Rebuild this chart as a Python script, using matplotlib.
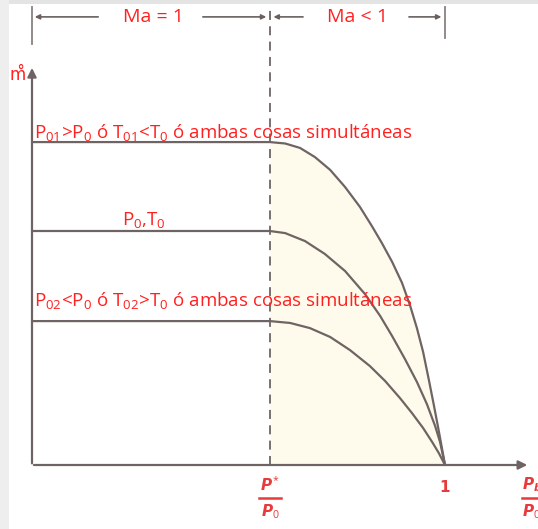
import matplotlib
matplotlib.use("Agg")
import matplotlib.pyplot as plt
from matplotlib.patches import Rectangle

plt.rcParams["mathtext.fontset"] = "custom"
plt.rcParams["mathtext.rm"] = "Open Sans"
plt.rcParams["mathtext.it"] = "DejaVu Sans:italic:bold"

# pressure ratio P/P0 (critical ratio where Ma = 1 at the throat)
P_CRIT = 0.576

# mass flow vs back pressure ratio, three stagnation states
ratio_high = [0.0, 0.576, 0.613, 0.649, 0.685, 0.722, 0.758, 0.794, 0.823, 0.847,
              0.872, 0.896, 0.915, 0.932, 0.947, 0.961, 0.973, 0.985, 1.0]
flow_high = [1.380, 1.380, 1.374, 1.355, 1.316, 1.261, 1.188, 1.103, 1.021, 0.949,
             0.868, 0.778, 0.684, 0.585, 0.483, 0.363, 0.256, 0.145, 0.0]

ratio_mid = [0.0, 0.576, 0.613, 0.661, 0.709, 0.758, 0.806, 0.843, 0.872, 0.903,
             0.932, 0.956, 0.976, 0.988, 1.0]
flow_mid = [1.0, 1.0, 0.991, 0.957, 0.902, 0.829, 0.731, 0.637, 0.551, 0.453,
            0.355, 0.261, 0.167, 0.098, 0.0]

ratio_low = [0.0, 0.576, 0.625, 0.673, 0.722, 0.770, 0.818, 0.855, 0.891, 0.920,
             0.947, 0.969, 0.985, 1.0]
flow_low = [0.615, 0.615, 0.607, 0.585, 0.547, 0.491, 0.423, 0.359, 0.286, 0.222,
            0.158, 0.098, 0.051, 0.0]

label_high = r"P$_{\mathrm{01}}$>P$_{\mathrm{0}}$ ó T$_{\mathrm{01}}$<T$_{\mathrm{0}}$ ó ambas cosas simultáneas"
label_mid = r"P$_{\mathrm{0}}$,T$_{\mathrm{0}}$"
label_low = r"P$_{\mathrm{02}}$<P$_{\mathrm{0}}$ ó T$_{\mathrm{02}}$>T$_{\mathrm{0}}$ ó ambas cosas simultáneas"

RED = "#ff2020"
LINE = "#6f6464"
FONT = "Open Sans"

fig = plt.figure(figsize=(5.38, 5.29), dpi=100)
ax = fig.add_axes([0, 0, 1, 1])
ax.axis("off")
ax.set_xlim(-32 / 413, 506 / 413)
ax.set_ylim(-64 / 234, 465 / 234)

# scan border
fig.patches.append(Rectangle((0, 1 - 4 / 529), 1, 4 / 529, transform=fig.transFigure,
                             color="#e4e4e4", lw=0))
fig.patches.append(Rectangle((0, 0), 9 / 538, 1, transform=fig.transFigure,
                             color="#eeeeee", lw=0))

# yellowish paper region under the curves
i0 = ratio_high.index(P_CRIT)
ax.fill_between(ratio_high[i0:], 0, flow_high[i0:], color="#fefbec", lw=0)

for r, f in [(ratio_high, flow_high), (ratio_mid, flow_mid), (ratio_low, flow_low)]:
    ax.plot(r, f, color=LINE, lw=1.6, solid_capstyle="round", solid_joinstyle="round")

# axes with arrows
ax.annotate("", xy=(0, 1.709), xytext=(0, -0.005),
            arrowprops=dict(arrowstyle="-|>", color=LINE, lw=1.6, mutation_scale=13))
ax.annotate("", xy=(1.206, 0), xytext=(-0.002, 0),
            arrowprops=dict(arrowstyle="-|>", color=LINE, lw=1.6, mutation_scale=13))

# critical ratio dashed line
ax.plot([P_CRIT, P_CRIT], [0, 1.957], color=LINE, lw=1.3, ls=(0, (5, 3.5)))

# dimension lines at top
ytop = 1.915
for xt, y0 in [(0.0, 1.80), (1.0, 1.825)]:
    ax.plot([xt, xt], [y0, 1.957], color="#8a8080", lw=1.3)
for x_from, x_to in [(0.167, 0.0), (0.407, 0.574), (0.663, 0.578), (0.906, 0.998)]:
    ax.annotate("", xy=(x_to, ytop), xytext=(x_from, ytop),
                arrowprops=dict(arrowstyle="-|>", color="#6a6060", lw=1.2,
                                mutation_scale=7))
ax.text(0.293, ytop, "Ma = 1", color=RED, fontsize=14, family=FONT,
        ha="center", va="center")
ax.text(0.787, ytop, "Ma < 1", color=RED, fontsize=14, family=FONT,
        ha="center", va="center")

# curve labels
ax.text(0.005, 1.419, label_high, color=RED, fontsize=13.5, family=FONT,
        ha="left", va="center")
ax.text(0.271, 1.043, label_mid, color=RED, fontsize=13.5, family=FONT,
        ha="center", va="center")
ax.text(0.005, 0.701, label_low, color=RED, fontsize=13.5, family=FONT,
        ha="left", va="center")

# axis labels
ax.text(-0.034, 1.667, "m\u030a", color=RED, fontsize=12, family="DejaVu Sans",
        ha="center", va="center")
XL = "#e83a3a"
ax.text(P_CRIT, -0.085, r"$P^{*}$", color=XL, fontsize=11, ha="center", va="center")
ax.plot([0.549, 0.603], [-0.141, -0.141], color=XL, lw=1.8)
ax.text(P_CRIT, -0.201, r"$P_{0}$", color=XL, fontsize=11, ha="center", va="center")
ax.text(1.0, -0.098, "1", color=XL, fontsize=11, fontweight="bold",
        ha="center", va="center")
ax.text(1.186, -0.085, r"$P_b$", color=XL, fontsize=11, ha="left", va="center")
ax.plot([1.186, 1.24], [-0.141, -0.141], color=XL, lw=1.8, clip_on=False)
ax.text(1.186, -0.201, r"$P_{0}$", color=XL, fontsize=11, ha="left", va="center")

fig.savefig("out.png", dpi=100)
